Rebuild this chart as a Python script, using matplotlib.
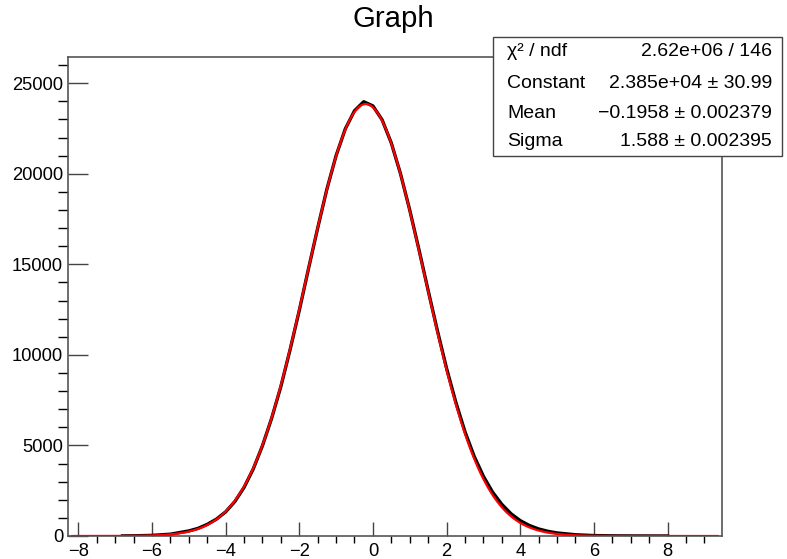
import numpy as np
import matplotlib
matplotlib.use("Agg")
import matplotlib.pyplot as plt
from matplotlib.ticker import MultipleLocator

plt.rcParams["font.family"] = ["Liberation Sans", "DejaVu Sans"]

# measured graph points (x, counts)
data_x = [-6.8, -6.5, -6.0, -5.5, -5.0, -4.75, -4.5, -4.25, -4.0, -3.75,
          -3.5, -3.25, -3.0, -2.75, -2.5, -2.25, -2.0, -1.75, -1.5, -1.25,
          -1.0, -0.75, -0.5, -0.25, 0.0, 0.25, 0.5, 0.75, 1.0, 1.25,
          1.5, 1.75, 2.0, 2.25, 2.5, 2.75, 3.0, 3.25, 3.5, 3.75,
          4.0, 4.25, 4.5, 4.75, 5.0, 5.5, 6.0, 6.5, 7.0, 7.5, 8.0]
data_y = [5, 12, 35, 100, 280, 420, 640, 930, 1330, 1900,
          2680, 3700, 4980, 6500, 8250, 10280, 12450, 14750, 17000, 19150,
          21000, 22480, 23480, 23980, 23750, 22980, 21700, 20000, 18000, 15820,
          13560, 11350, 9260, 7400, 5760, 4400, 3300, 2420, 1750, 1230,
          850, 580, 390, 260, 170, 70, 25, 10, 4, 2, 1]

# gaus fit parameters
fit_const = 2.385e4
fit_mean = -0.1958
fit_sigma = 1.588

stat_labels = ["χ² / ndf", "Constant", "Mean", "Sigma"]
stat_values = ["2.62e+06 / 146", "2.385e+04 ± 30.99",
               "\u22120.1958 ± 0.002379", "1.588 ± 0.002395"]

W, H = 787, 559
fig = plt.figure(figsize=(W / 100, H / 100), dpi=100)
ax = fig.add_axes([68 / W, 1 - 536 / H, (722 - 68) / W, (536 - 57) / H])

ax.plot(data_x, data_y, color="black", lw=2.4, zorder=2)

xlo, xhi = -8.28, 9.48
fx = np.linspace(xlo, xhi, 600)
keep = (fx > xlo + 0.1) & (fx < xhi - 0.1)
fy = fit_const * np.exp(-0.5 * ((fx - fit_mean) / fit_sigma) ** 2)
ax.plot(fx[keep], fy[keep], color="red", lw=1.6, zorder=3)

ax.set_xlim(xlo, xhi)
ax.set_ylim(0, 26450)

ax.xaxis.set_major_locator(MultipleLocator(2))
ax.xaxis.set_minor_locator(MultipleLocator(0.5))
ax.yaxis.set_major_locator(MultipleLocator(5000))
ax.yaxis.set_minor_locator(MultipleLocator(1000))
ax.tick_params(direction="in", colors="#444", labelcolor="black",
               labelsize=13.2, width=1.0)
ax.tick_params(axis="x", which="major", length=10, pad=5)
ax.tick_params(axis="x", which="minor", length=5, width=1.0)
ax.tick_params(axis="y", which="major", length=14.4, pad=3.6)
ax.tick_params(axis="y", which="minor", length=7.2, width=1.0)
for s in ax.spines.values():
    s.set_color("#555")
    s.set_linewidth(1.2)

fig.text(0.5, 1 - 27 / H, "Graph", ha="center", va="baseline", fontsize=21.2)

# stats box
bx0, bx1, by0, by1 = 493, 782, 37, 156
box = plt.Rectangle((bx0 / W, 1 - by1 / H), (bx1 - bx0) / W, (by1 - by0) / H,
                    transform=fig.transFigure, facecolor="white",
                    edgecolor="#444", lw=1.0, zorder=5)
fig.patches.append(box)
rows_y = [52, 84, 113, 141]
for lab, val, yy in zip(stat_labels, stat_values, rows_y):
    fig.text(507 / W, 1 - yy / H, lab, ha="left", va="center",
             fontsize=14, zorder=6)
    fig.text(772 / W, 1 - yy / H, val, ha="right", va="center",
             fontsize=14, zorder=6)

fig.savefig("out.png", dpi=100, facecolor="white")
